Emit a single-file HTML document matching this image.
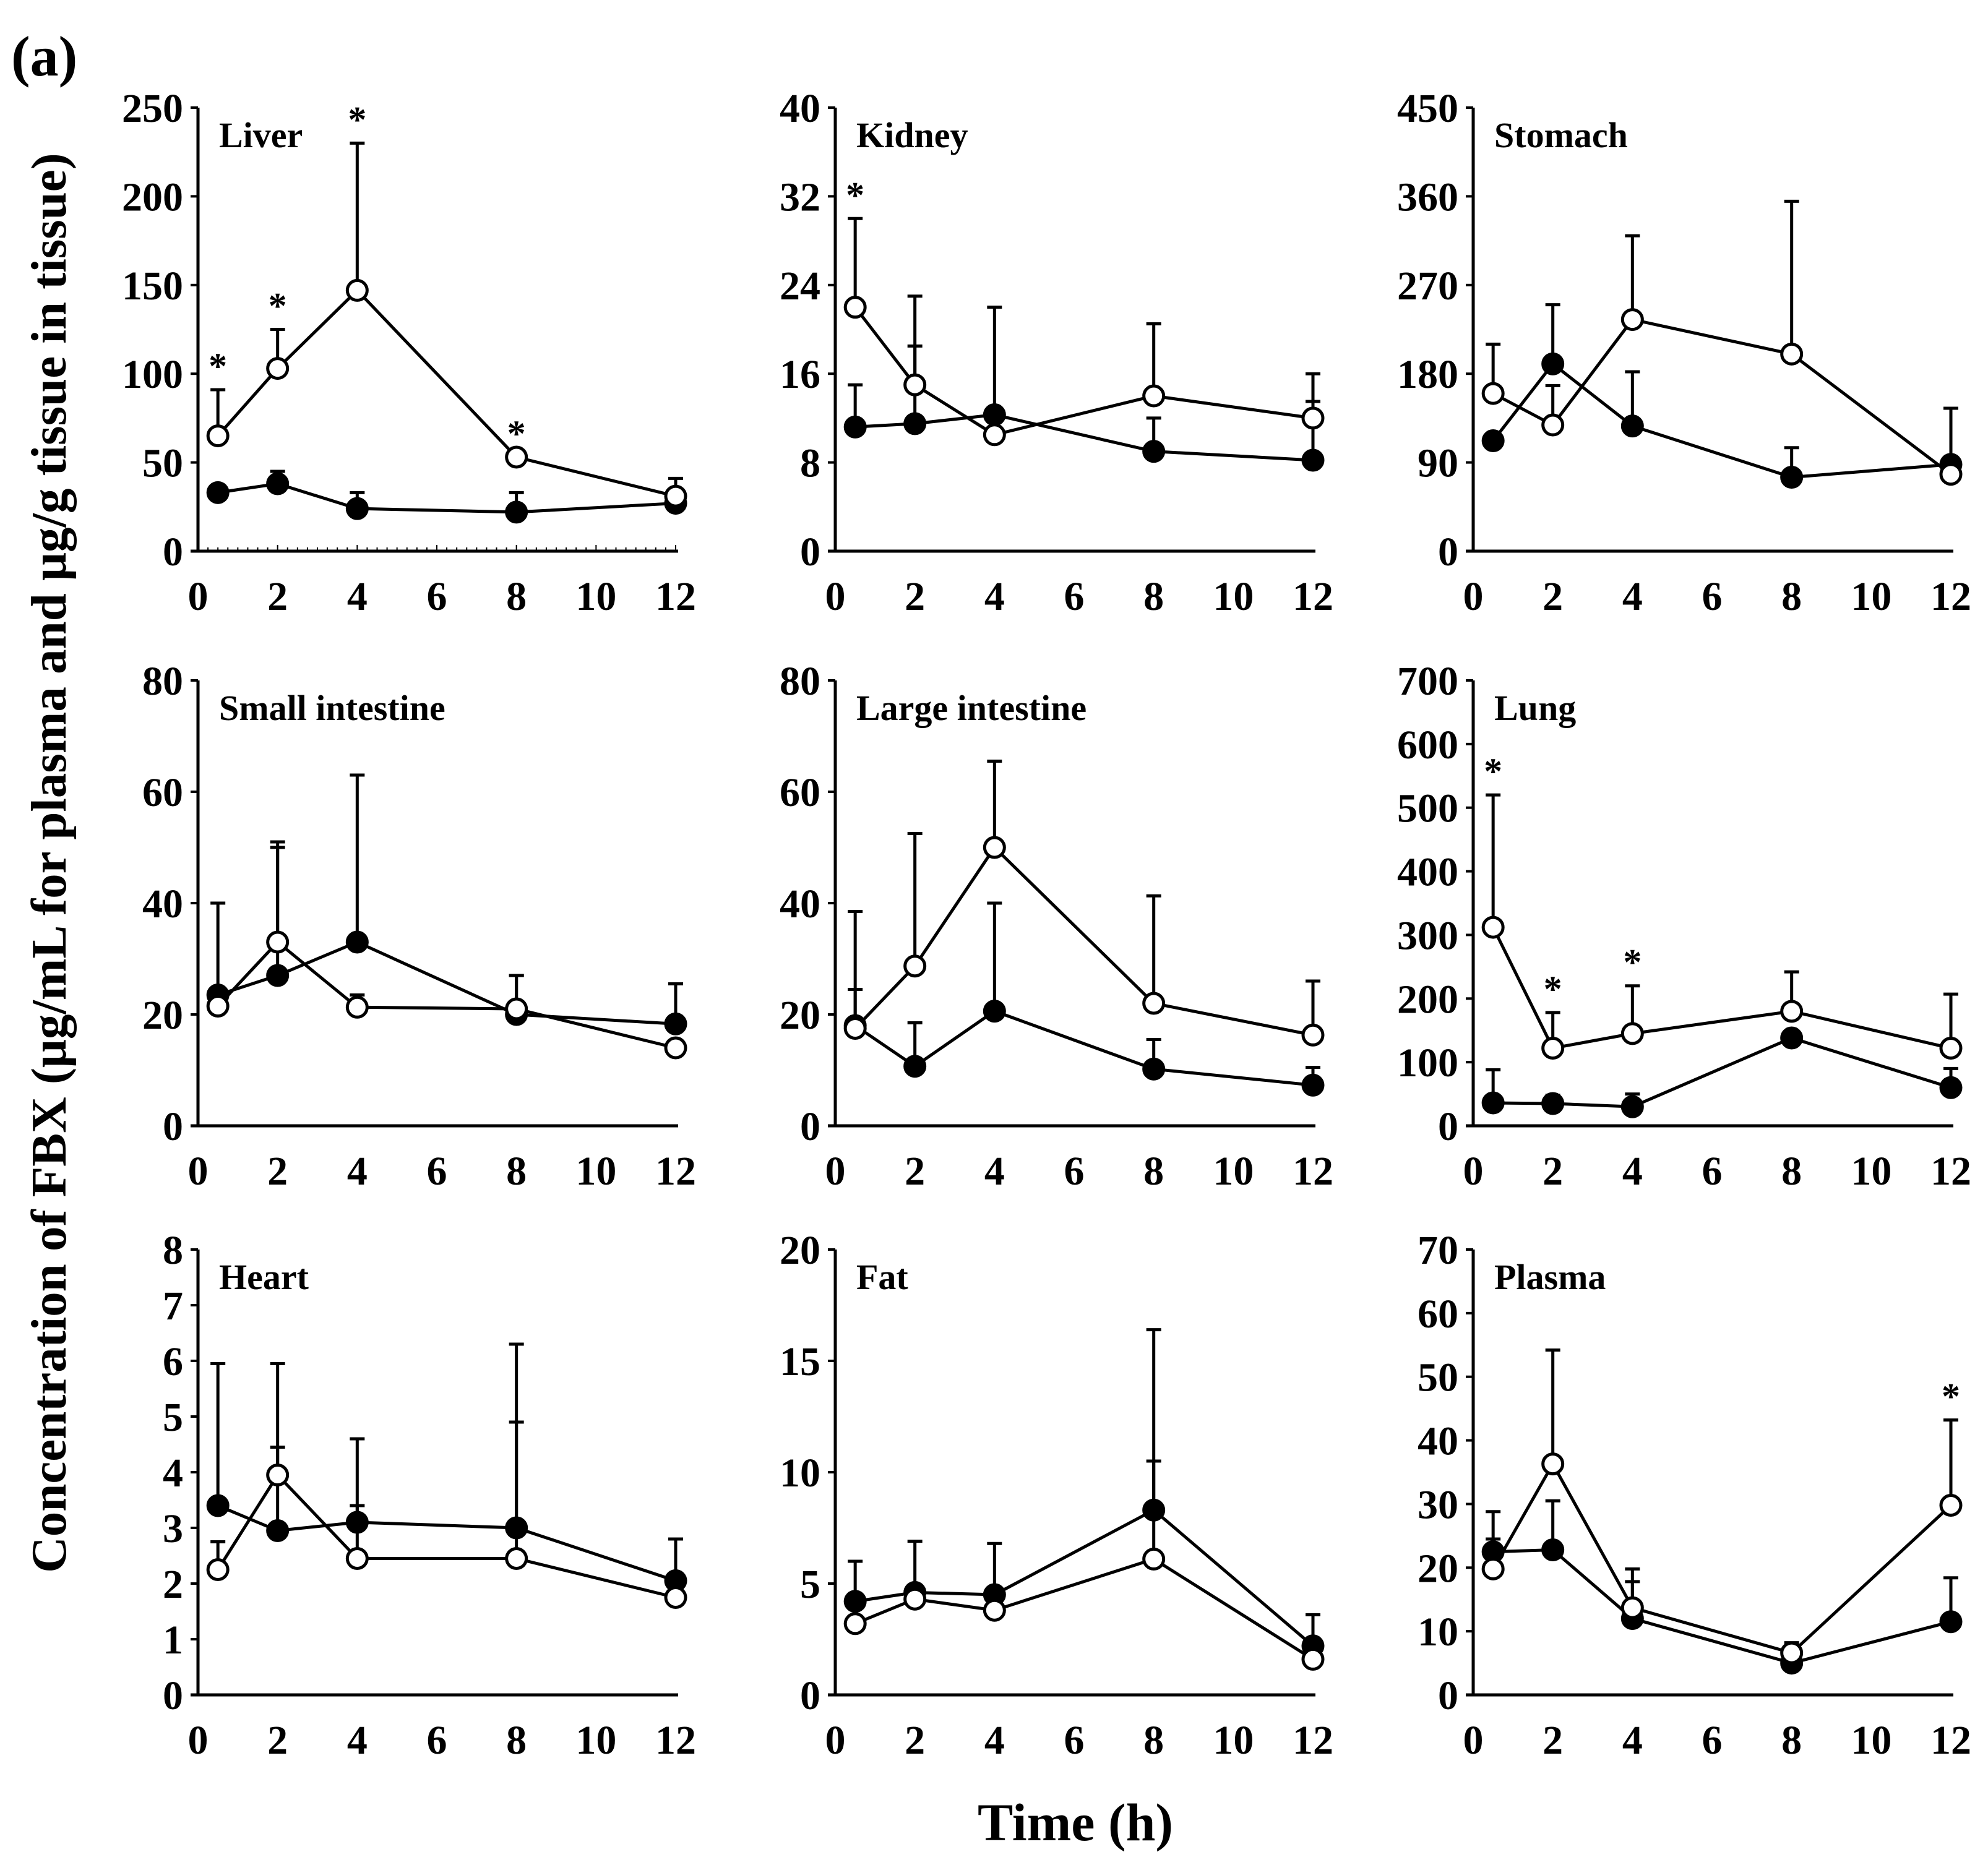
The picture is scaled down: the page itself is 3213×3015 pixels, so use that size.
<!DOCTYPE html>
<html><head><meta charset="utf-8">
<style>
html,body{margin:0;padding:0;background:#fff;}
svg{display:block;font-family:"Liberation Serif",serif;font-weight:bold;}
</style></head>
<body>
<svg id="chart" width="3213" height="3015" viewBox="0 0 3213 3015" xmlns="http://www.w3.org/2000/svg">
<rect width="3213" height="3015" fill="#fff"/>
<text x="18" y="122" font-size="92">(a)</text>
<text transform="translate(106,1395) rotate(-90)" text-anchor="middle" font-size="81">Concentration of FBX (μg/mL for plasma and μg/g tissue in tissue)</text>
<text x="1738" y="2975" text-anchor="middle" font-size="86">Time (h)</text>
</svg>
<script>
const times = [0.5, 2, 4, 8, 12];
const xTicks = [0, 2, 4, 6, 8, 10, 12];
const panelNames = ["Liver","Kidney","Stomach","Small intestine","Large intestine","Lung","Heart","Fat","Plasma"];
const yMax = [250, 40, 450, 80, 80, 700, 8, 20, 70];
const yStep = [50, 8, 90, 20, 20, 100, 1, 5, 10];
const openMean = [
 [65,103,147,53,31],[22,15,10.5,14,12],[160,128,235,200,78],
 [21.5,33,21.3,21,14],[17.5,28.7,50,22,16.3],[312,122,145,180,122],
 [2.25,3.95,2.45,2.45,1.75],[3.2,4.3,3.8,6.1,1.6],[19.8,36.3,13.7,6.6,29.8]];
const openErr = [
 [91,125,230,null,41],[30,23,null,20.5,16],[210,168,320,355,null],
 [null,51,23.5,27,null],[38.5,52.5,65.5,41.3,26],[520,178,220,242,207],
 [2.75,5.95,3.4,4.9,null],[null,null,null,10.5,null],[24.5,54.2,19.8,8.2,43.2]];
const filledMean = [
 [33,38,24,22,27],[11.2,11.5,12.3,9,8.2],[112,190,127,75,88],
 [23.5,27,33,20,18.3],[18,10.7,20.6,10.2,7.3],[36,35,30,138,60],
 [3.4,2.95,3.1,3.0,2.05],[4.2,4.6,4.5,8.3,2.2],[22.5,22.8,12,5,11.5]];
const filledErr = [
 [null,45,33,33,null],[15,18.5,22,12,13.5],[null,250,182,105,145],
 [40,50,63,27,25.5],[24.5,18.5,40,15.5,10.5],[88,48,50,null,90],
 [5.95,4.45,4.6,6.3,2.8],[6.0,6.9,6.8,16.4,3.6],[28.8,30.5,17.8,7.5,18.4]];
const stars = [[0,1,2,3],[0],[],[],[],[0,1,2],[],[],[4]];

const colX0 = [320, 1350, 2381];
const plotW = 772;
const rowTop = [174, 1100, 2020];
const rowZero = [891, 1820, 2740];
const NS = "http://www.w3.org/2000/svg";
const svg = document.getElementById("chart");
function mk(tag, attrs, parent){
  const e = document.createElementNS(NS, tag);
  for (const k in attrs) e.setAttribute(k, attrs[k]);
  (parent||svg).appendChild(e); return e;
}
panelNames.forEach((name, p) => {
  const c = p % 3, r = Math.floor(p / 3);
  const x0 = colX0[c], top = rowTop[r], zero = rowZero[r];
  const sx = v => x0 + v / 12 * plotW;
  const sy = v => zero - v / yMax[p] * (zero - top);
  const g = mk("g", {});
  
  
  const ya = mk("line", {x1:x0, y1:top, x2:x0, y2:zero, stroke:"#000","stroke-width":5}, g);
  
  
  const xa = mk("line", {x1:x0-12, y1:zero, x2:sx(12)+4, y2:zero, stroke:"#000","stroke-width":5}, g);
  
  
  if (p === 0) {
    for (let t = 0.25; t <= 12; t += 0.25) {
      mk("line", {x1:sx(t), y1:zero, x2:sx(t), y2:zero-(t%2===0?10:6), stroke:"#000","stroke-width":2}, g);
    }
  }
  for (let v = 0; v <= yMax[p] + 1e-9; v += yStep[p]) {
    mk("line", {x1:x0-12, y1:sy(v), x2:x0, y2:sy(v), stroke:"#000","stroke-width":4}, g);
    const t = mk("text", {x:x0-24, y:sy(v)+23, "text-anchor":"end","font-size":66}, g);
    
    
    t.textContent = Math.round(v*100)/100;
  }
  xTicks.forEach(v => {
    const t = mk("text", {x:sx(v), y:zero+95, "text-anchor":"middle","font-size":66}, g);
    
    
    t.textContent = v;
  });
  const title = mk("text", {x:x0+34, y:top+64, "font-size":58}, g);
  
  
  title.textContent = name;
  [[filledMean[p], filledErr[p], "filled"], [openMean[p], openErr[p], "open"]].forEach(([m, e, key]) => {
    const pts = times.map((t,i) => sx(t)+","+sy(m[i])).join(" ");
    const pl = mk("polyline", {points:pts, fill:"none", stroke:"#000","stroke-width":5}, g);
    
    
    times.forEach((t,i) => {
      if (e[i] != null) {
        mk("line", {x1:sx(t), y1:sy(m[i]), x2:sx(t), y2:sy(e[i]), stroke:"#000","stroke-width":5}, g);
        mk("line", {x1:sx(t)-12, y1:sy(e[i]), x2:sx(t)+12, y2:sy(e[i]), stroke:"#000","stroke-width":5}, g);
      }
    });
  });
  [[filledMean[p], "#000", "filled"], [openMean[p], "#fff", "open"]].forEach(([m, fill, key]) => {
    times.forEach((t,i) => {
      const ci = mk("circle", {cx:sx(t), cy:sy(m[i]), r:16, fill:fill, stroke:"#000","stroke-width":5}, g);
      
      
    });
  });
  stars[p].forEach(i => {
    const top2 = openErr[p][i] != null ? openErr[p][i] : openMean[p][i];
    const s = mk("text", {x:sx(times[i]), y:sy(top2)-18, "text-anchor":"middle","font-size":60}, g);
    
    
    s.textContent = "*";
  });
});
</script>
</body></html>
